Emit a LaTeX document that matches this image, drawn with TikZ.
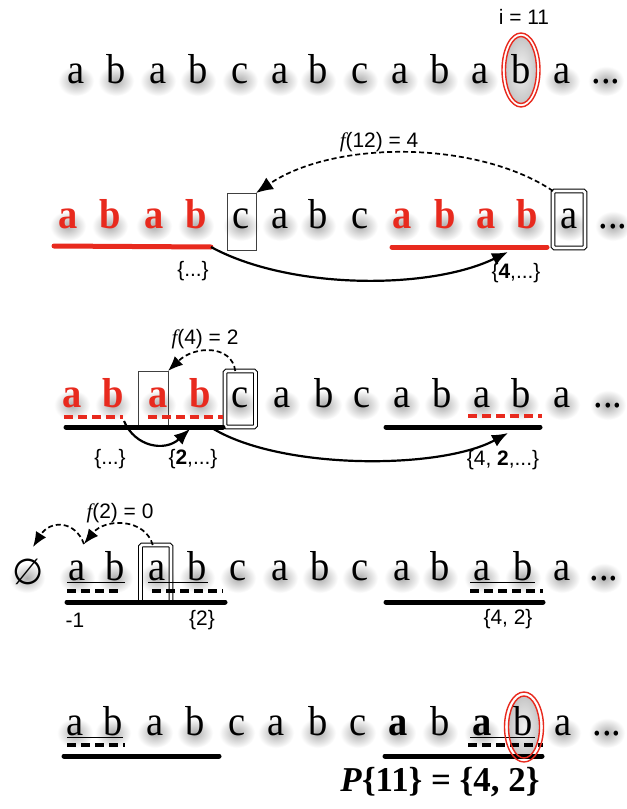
\documentclass[tikz,border=0pt]{standalone}
\usepackage{fontspec}
\setmainfont{Liberation Serif}
\newfontfamily\letfam[FakeStretch=0.92]{Liberation Serif}
\newfontfamily\labsans{Liberation Sans}
\newfontfamily\symfont{DejaVu Sans}
\usetikzlibrary{arrows.meta,calc}
\pgfdeclarelayer{bg}
\pgfdeclarelayer{mid}
\pgfsetlayers{bg,mid,main}
\definecolor{hl}{RGB}{232,42,30}
\newcommand\LetFont{\letfam\fontsize{42}{42}\selectfont}
\newcommand\LabFont{\labsans\fontsize{21}{21}\selectfont}
\newcommand\fsym{{\rmfamily\itshape f}}
\newcommand\Lttr[5]{%
  \begin{pgfonlayer}{bg}\shade[lshadow] (#2,#3-2) ellipse [x radius=18, y radius=15];\end{pgfonlayer}%
  \node[#4] (#1) at (#2,#3) {#5};}
\tikzset{
  lshadow/.style={inner color=black!32, outer color=white},
  lt/.style={anchor=base, inner sep=0pt, outer sep=0pt, font=\LetFont},
  ltr/.style={lt, text=hl, font=\LetFont\bfseries},
  ltb/.style={lt, font=\LetFont\bfseries},
  lab/.style={font=\LabFont, inner sep=0pt},
  sbox/.style={draw=black!75, line width=0.9bp, inner sep=0pt, outer sep=0pt},
  dbox/.style={draw=black, double=white, double distance=2.6bp, line width=1.1bp, rounded corners=1.5bp, inner sep=0pt, outer sep=0pt},
  redline/.style={draw=hl, line width=5bp, line cap=round},
  reddash/.style={draw=hl, line width=4.2bp, dash pattern=on 9bp off 5bp},
  blkline/.style={draw=black, line width=5bp, line cap=round},
  blkdash/.style={draw=black, line width=4bp, dash pattern=on 9bp off 5bp},
  uline/.style={draw=black, line width=1bp},
  jump/.style={-{Latex[length=16bp,width=13bp]}, line width=2.2bp},
  fail/.style={-{Latex[length=17bp,width=14bp]}, line width=1.7bp, dash pattern=on 5bp off 3bp},
  failsm/.style={fail, -{Latex[length=15bp,width=12bp]}},
  ringred/.style={draw=hl, line width=1.4bp},
}
\begin{document}
\begin{tikzpicture}[x=1bp,y=-1bp]
\begin{pgfonlayer}{bg}
\fill[white] (0,0) rectangle (627,809);
\end{pgfonlayer}
\useasboundingbox (0,0) rectangle (627,809);

% ---------- highlight fills ----------
\begin{pgfonlayer}{mid}
\fill[white] (521,70) ellipse [x radius=19, y radius=37];
\shade[inner color=gray!10, outer color=gray!45] (521,70) ellipse [x radius=15.5, y radius=33.5];
\fill[white] (524,727) ellipse [x radius=19.5, y radius=35];
\shade[inner color=gray!10, outer color=gray!45] (524,727) ellipse [x radius=15.5, y radius=31];
\end{pgfonlayer}

% ---------- row 1 ----------
\node[lab] (i11) at (524,17) {i = 11};
\Lttr{r1-1}{76}{83}{lt}{a}
\Lttr{r1-2}{116}{83}{lt}{b}
\Lttr{r1-3}{158}{83}{lt}{a}
\Lttr{r1-4}{198}{83}{lt}{b}
\Lttr{r1-5}{240}{83}{lt}{c}
\Lttr{r1-6}{280}{83}{lt}{a}
\Lttr{r1-7}{318}{83}{lt}{b}
\Lttr{r1-8}{360}{83}{lt}{c}
\Lttr{r1-9}{400}{83}{lt}{a}
\Lttr{r1-10}{440}{83}{lt}{b}
\Lttr{r1-11}{480}{83}{lt}{a}
\Lttr{r1-12}{521}{83}{lt}{b}
\Lttr{r1-13}{562}{83}{lt}{a}
\Lttr{r1-14}{606}{83}{lt}{...}

% ---------- row 2 ----------
\node[lab] (f12) at (379,142) {\fsym(12) = 4};
\Lttr{r2-1}{68}{228}{ltr}{a}
\Lttr{r2-2}{110}{228}{ltr}{b}
\Lttr{r2-3}{154}{228}{ltr}{a}
\Lttr{r2-4}{196}{228}{ltr}{b}
\Lttr{r2-5}{241}{228}{lt}{c}
\Lttr{r2-6}{280}{228}{lt}{a}
\Lttr{r2-7}{318}{228}{lt}{b}
\Lttr{r2-8}{360}{228}{lt}{c}
\Lttr{r2-9}{402}{228}{ltr}{a}
\Lttr{r2-10}{445}{228}{ltr}{b}
\Lttr{r2-11}{486}{228}{ltr}{a}
\Lttr{r2-12}{527}{228}{ltr}{b}
\Lttr{r2-13}{569}{228}{lt}{a}
\Lttr{r2-14}{613}{228}{lt}{...}
\node[sbox, minimum width=29bp, minimum height=57bp] (sb2) at (241.5,221.5) {};
\node[dbox, minimum width=32bp, minimum height=57bp] (db2) at (569,219.5) {};
\coordinate (u2l) at (211,247);
\coordinate (t2) at (508,252);
\draw[redline] (54,246) -- (u2l);
\draw[redline] (392,247) -- (547,247);
\draw[fail] (db2.north west) .. controls (477,140) and (334,140) .. (sb2.north east);
\draw[jump] (u2l) .. controls (290,290) and (430,290) .. (t2);
\node[lab] (l2a) at (193,271) {\{...\}};
\node[lab] (l2b) at (516,273) {\{\textbf{4},...\}};

% ---------- row 3 ----------
\node[lab] (f4) at (205,339) {\fsym(4) = 2};
\Lttr{r3-1}{72}{407}{ltr}{a}
\Lttr{r3-2}{113}{407}{ltr}{b}
\Lttr{r3-3}{158}{407}{ltr}{a}
\Lttr{r3-4}{200}{407}{ltr}{b}
\Lttr{r3-5}{240}{407}{lt}{c}
\Lttr{r3-6}{282}{407}{lt}{a}
\Lttr{r3-7}{324}{407}{lt}{b}
\Lttr{r3-8}{362}{407}{lt}{c}
\Lttr{r3-9}{402}{407}{lt}{a}
\Lttr{r3-10}{442}{407}{lt}{b}
\Lttr{r3-11}{482}{407}{lt}{a}
\Lttr{r3-12}{521}{407}{lt}{b}
\Lttr{r3-13}{562}{407}{lt}{a}
\Lttr{r3-14}{608}{407}{lt}{...}
\node[sbox, minimum width=30bp, minimum height=55bp] (sb3) at (153,398.5) {};
\node[dbox, minimum width=30.5bp, minimum height=56bp] (db3) at (240.25,399) {};
\draw[reddash] (64,417) -- (123,417);
\draw[reddash] (148,417) -- (223,417);
\draw[reddash] (468,416) -- (542,416);
\draw[blkline] (66,427) -- (223,427);
\draw[blkline] (386,427) -- (540,427);
\coordinate (s3a) at (124,421);
\coordinate (t3a) at (190,429);
\coordinate (s3b) at (212,428);
\coordinate (t3b) at (508,433);
\draw[failsm] ($(db3.north)+(-5,0)$) .. controls (232,345) and (195,345) .. (sb3.north east);
\draw[jump] (s3a) .. controls (135,447) and (165,452) .. (t3a);
\draw[jump] (s3b) .. controls (280,470) and (440,470) .. (t3b);
\node[lab] (l3a) at (110,459) {\{...\}};
\node[lab] (l3b) at (193,459) {\{\textbf{2},...\}};
\node[lab] (l3c) at (503,460) {\{4, \textbf{2},...\}};

% ---------- row 4 ----------
\node[lab] (f2) at (120,513) {\fsym(2) = 0};
\begin{pgfonlayer}{bg}\shade[lshadow] (27,578) ellipse [x radius=18, y radius=15];\end{pgfonlayer}
\node[font=\symfont\fontsize{36}{36}\selectfont, inner sep=0pt] (empty) at (28,572) {∅};
\Lttr{r4-1}{77}{580}{lt}{a}
\Lttr{r4-2}{115}{580}{lt}{b}
\Lttr{r4-3}{157}{580}{lt}{a}
\Lttr{r4-4}{197}{580}{lt}{b}
\Lttr{r4-5}{238}{580}{lt}{c}
\Lttr{r4-6}{280}{580}{lt}{a}
\Lttr{r4-7}{320}{580}{lt}{b}
\Lttr{r4-8}{360}{580}{lt}{c}
\Lttr{r4-9}{402}{580}{lt}{a}
\Lttr{r4-10}{440}{580}{lt}{b}
\Lttr{r4-11}{482}{580}{lt}{a}
\Lttr{r4-12}{523}{580}{lt}{b}
\Lttr{r4-13}{562}{580}{lt}{a}
\Lttr{r4-14}{604}{580}{lt}{...}
\node[dbox, minimum width=30.5bp, minimum height=57.5bp] (db4) at (155.75,573.75) {};
\draw[uline] (67,582) -- (125,582);
\draw[uline] (148,582) -- (208,582);
\draw[uline] (470,582) -- (535,582);
\draw[blkdash] (67,591) -- (123,591);
\draw[blkdash] (152,591) -- (223,591);
\draw[blkdash] (470,591) -- (543,591);
\draw[blkline] (67,602) -- (225,602);
\draw[blkline] (386,602) -- (543,602);
\coordinate (t4a) at (84,544);
\coordinate (t4b) at (33,547);
\draw[failsm] ($(db4.north)+(-3,0)$) .. controls (145,518) and (105,518) .. (t4a);
\draw[failsm] (t4a) .. controls (75,520) and (50,520) .. (t4b);
\node[lab] (l4a) at (75,620) {-1};
\node[lab] (l4b) at (202,620) {\{2\}};
\node[lab] (l4c) at (508,619) {\{4, 2\}};

% ---------- row 5 ----------
\Lttr{r5-1}{75}{735}{lt}{a}
\Lttr{r5-2}{113}{735}{lt}{b}
\Lttr{r5-3}{155}{735}{lt}{a}
\Lttr{r5-4}{195}{735}{lt}{b}
\Lttr{r5-5}{237}{735}{lt}{c}
\Lttr{r5-6}{276}{735}{lt}{a}
\Lttr{r5-7}{318}{735}{lt}{b}
\Lttr{r5-8}{358}{735}{lt}{c}
\Lttr{r5-9}{398}{735}{ltb}{a}
\Lttr{r5-10}{440}{735}{lt}{b}
\Lttr{r5-11}{482}{735}{ltb}{a}
\Lttr{r5-12}{523}{735}{lt}{b}
\Lttr{r5-13}{563}{735}{lt}{a}
\Lttr{r5-14}{607}{735}{lt}{...}
\draw[uline] (67,737) -- (123,737);
\draw[uline] (470,737) -- (535,737);
\draw[blkdash] (67,745) -- (125,745);
\draw[blkdash] (468,745) -- (543,745);
\draw[blkline] (64,756) -- (219,756);
\draw[blkline] (385,756) -- (542,756);
\node[anchor=base, inner sep=0pt, font=\fontsize{35}{35}\selectfont\bfseries] (res) at (440,791) {\textit{P}\{11\} = \{4, 2\}};

% ---------- red rings ----------
\draw[ringred] (521,70) ellipse [x radius=19, y radius=37];
\draw[ringred] (521,70) ellipse [x radius=15.5, y radius=33.5];
\draw[ringred] (524,727) ellipse [x radius=19.5, y radius=35];
\draw[ringred] (524,727) ellipse [x radius=15.5, y radius=31];
\end{tikzpicture}
\end{document}
